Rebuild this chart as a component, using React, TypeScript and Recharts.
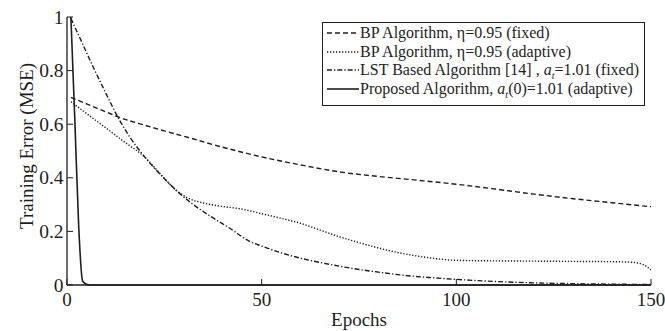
import React from 'react';
import { LineChart, Line, XAxis, YAxis, Legend, Label } from 'recharts';

// Training error (MSE) vs. epoch
const bpFixedEpochs = [1, 5, 10, 13, 20, 25, 30, 40, 50, 60, 70, 80, 90, 100, 110, 120, 130, 140, 150];
const bpFixedValues = [0.7, 0.676, 0.646, 0.628, 0.596, 0.575, 0.555, 0.514, 0.478, 0.448, 0.422, 0.405, 0.391, 0.376, 0.358, 0.339, 0.322, 0.307, 0.292];

const bpAdaptiveEpochs = [1, 5, 10, 15, 20, 24, 28, 31, 35, 40, 45, 50, 55, 60, 65, 70, 75, 80, 85, 90, 95, 100, 110, 120, 130, 140, 145, 148, 150];
const bpAdaptiveValues = [0.684, 0.64, 0.586, 0.531, 0.477, 0.414, 0.354, 0.325, 0.306, 0.293, 0.283, 0.266, 0.249, 0.23, 0.205, 0.18, 0.158, 0.138, 0.121, 0.108, 0.098, 0.092, 0.09, 0.089, 0.088, 0.087, 0.085, 0.076, 0.056];

const lstEpochs = [1, 4, 7, 10, 13, 16, 20, 24, 28, 32, 37, 42, 47, 50, 55, 60, 65, 70, 75, 80, 86, 93, 100, 110, 120, 130, 140, 150];
const lstValues = [0.995, 0.9, 0.805, 0.715, 0.628, 0.555, 0.477, 0.412, 0.354, 0.305, 0.255, 0.21, 0.162, 0.145, 0.12, 0.1, 0.084, 0.07, 0.058, 0.048, 0.037, 0.028, 0.021, 0.013, 0.008, 0.005, 0.003, 0.002];

const proposedEpochs = [1, 2, 3, 4, 5, 6, 10, 20, 50, 100, 150];
const proposedValues = [1.0, 0.62, 0.22, 0.015, 0.003, 0, 0, 0, 0, 0, 0];

const xTicks = [0, 50, 100, 150];
const yTicks = [0, 0.2, 0.4, 0.6, 0.8, 1];

const legendLabels = [
  'BP Algorithm, η=0.95 (fixed)',
  'BP Algorithm, η=0.95 (adaptive)',
  'LST Based Algorithm [14] , {at}=1.01 (fixed)',
  'Proposed Algorithm, {at}(0)=1.01 (adaptive)',
];
const dashes = ['5 3', '1.3 1.7', '5 2 1.3 2', undefined];
const widths = [1.4, 1.4, 1.4, 1.6];

const zip = (xs: number[], ys: number[]) => xs.map((epoch, i) => ({ epoch, value: ys[i] }));
const seriesData = [
  zip(bpFixedEpochs, bpFixedValues),
  zip(bpAdaptiveEpochs, bpAdaptiveValues),
  zip(lstEpochs, lstValues),
  zip(proposedEpochs, proposedValues),
];

const INK = '#1e1e1e';
const FONT = '"Liberation Serif", "Times New Roman", serif';
const TICK = 6;

const BottomTick = (p: any) => (
  <g>
    <line x1={p.x} y1={p.y} x2={p.x} y2={p.y - TICK} stroke={INK} strokeWidth={1} />
    <text x={p.x} y={p.y + 21} textAnchor="middle" fontFamily={FONT} fontSize={19} fill={INK}>
      {p.payload.value}
    </text>
  </g>
);

const TopTick = (p: any) => (
  <line x1={p.x} y1={p.y} x2={p.x} y2={p.y + TICK} stroke={INK} strokeWidth={1} />
);

const LeftTick = (p: any) => (
  <g>
    <line x1={p.x} y1={p.y} x2={p.x + TICK} y2={p.y} stroke={INK} strokeWidth={1} />
    <text x={p.x - 3.5} y={p.y + 6.5} textAnchor="end" fontFamily={FONT} fontSize={19.5} fill={INK}>
      {String(p.payload.value)}
    </text>
  </g>
);

const RightTick = (p: any) => (
  <line x1={p.x} y1={p.y} x2={p.x - TICK} y2={p.y} stroke={INK} strokeWidth={1} />
);

function renderLabel(text: string) {
  const parts = text.split('{at}');
  return parts.map((part, i) => (
    <React.Fragment key={i}>
      {i > 0 && (
        <span>
          <i>a</i>
          <i style={{ fontSize: 10, position: 'relative', top: 4 }}>t</i>
        </span>
      )}
      {part}
    </React.Fragment>
  ));
}

const LegendBox = () => (
  <div
    style={{
      boxSizing: 'border-box',
      width: 323,
      height: 84,
      border: `1.3px solid ${INK}`,
      background: '#fff',
      paddingTop: 1,
      fontFamily: FONT,
      fontSize: 16,
      color: INK,
    }}
  >
    {legendLabels.map((label, i) => (
      <div key={i} style={{ display: 'flex', alignItems: 'center', height: 18.5, whiteSpace: 'nowrap' }}>
        <svg width={37} height={10} style={{ flex: 'none' }}>
          <line x1={4} y1={5} x2={36} y2={5} stroke={INK} strokeWidth={widths[i]} strokeDasharray={dashes[i]} />
        </svg>
        <span>{renderLabel(label)}</span>
      </div>
    ))}
  </div>
);

export default function App() {
  return (
    <div style={{ position: 'absolute', left: 0, top: 0, background: '#fff' }}>
      <LineChart width={665} height={331} margin={{ top: 17, right: 14, bottom: 6, left: 16 }}>
        <XAxis
          xAxisId="bottom"
          type="number"
          dataKey="epoch"
          domain={[0, 150]}
          ticks={xTicks}
          interval={0}
          height={40}
          tickSize={0}
          tickMargin={0}
          tickLine={false}
          tick={<BottomTick />}
          axisLine={{ stroke: INK, strokeWidth: 1.3 }}
          allowDataOverflow
        >
          <Label
            content={(props: any) => {
              const vb = props.viewBox || { x: 67, y: 285, width: 584 };
              return (
                <text x={vb.x + vb.width / 2} y={vb.y + 41} textAnchor="middle" fontFamily={FONT} fontSize={19} fill={INK}>
                  Epochs
                </text>
              );
            }}
          />
        </XAxis>
        <XAxis
          xAxisId="top"
          orientation="top"
          type="number"
          dataKey="epoch"
          domain={[0, 150]}
          ticks={xTicks}
          interval={0}
          height={0}
          tickSize={0}
          tickMargin={0}
          tickLine={false}
          tick={<TopTick />}
          axisLine={{ stroke: INK, strokeWidth: 1.3 }}
        />
        <YAxis
          yAxisId="left"
          type="number"
          domain={[0, 1]}
          ticks={yTicks}
          interval={0}
          width={51}
          tickSize={0}
          tickMargin={0}
          tickLine={false}
          tick={<LeftTick />}
          axisLine={{ stroke: INK, strokeWidth: 1.3 }}
        >
          <Label
            content={(props: any) => {
              const vb = props.viewBox || { x: 16, y: 17, height: 268 };
              const cx = vb.x + 17;
              const cy = vb.y + vb.height / 2 - 5;
              return (
                <text
                  x={cx}
                  y={cy}
                  transform={`rotate(-90, ${cx}, ${cy})`}
                  textAnchor="middle"
                  fontFamily={FONT}
                  fontSize={19}
                  fill={INK}
                >
                  Training Error (MSE)
                </text>
              );
            }}
          />
        </YAxis>
        <YAxis
          yAxisId="right"
          orientation="right"
          type="number"
          domain={[0, 1]}
          ticks={yTicks}
          interval={0}
          width={0}
          tickSize={0}
          tickMargin={0}
          tickLine={false}
          tick={<RightTick />}
          axisLine={{ stroke: INK, strokeWidth: 1.3 }}
        />
        {seriesData.map((d, i) => (
          <Line
            key={i}
            xAxisId="bottom"
            yAxisId="left"
            data={d}
            dataKey="value"
            type="monotone"
            stroke={INK}
            strokeWidth={widths[i]}
            strokeDasharray={dashes[i]}
            dot={false}
            activeDot={false}
            isAnimationActive={false}
          />
        ))}
        <Legend
          layout="vertical"
          align="center"
          verticalAlign="middle"
          content={() => <LegendBox />}
          wrapperStyle={{ left: 322, top: 22, width: 323, height: 84 }}
        />
      </LineChart>
    </div>
  );
}
